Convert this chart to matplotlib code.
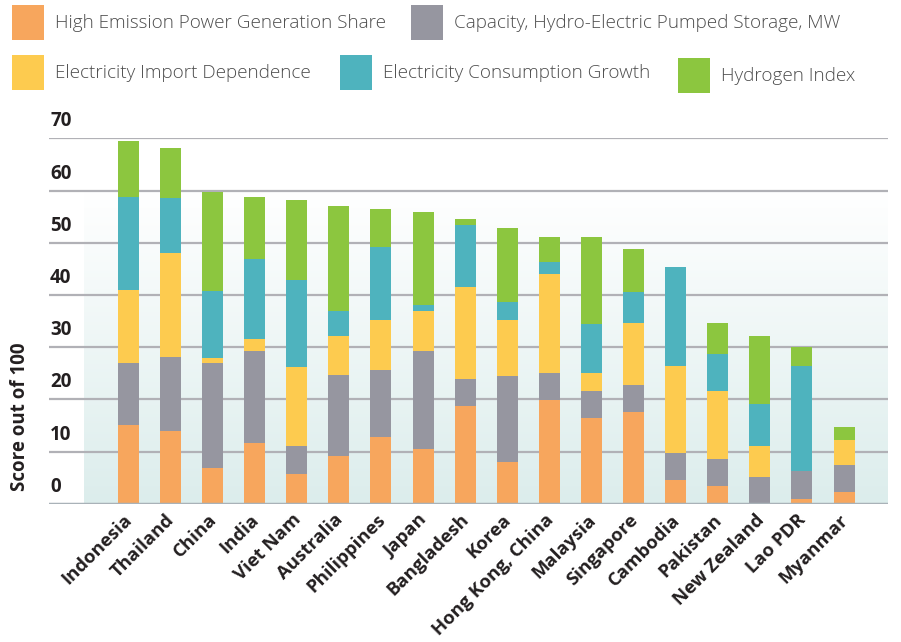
import numpy as np
import matplotlib
matplotlib.use('Agg')
import matplotlib.pyplot as plt
from matplotlib.patches import Rectangle
from matplotlib.transforms import offset_copy, ScaledTranslation

# ---- data ----
countries = ['Indonesia', 'Thailand', 'China', 'India', 'Viet Nam', 'Australia',
             'Philippines', 'Japan', 'Bangladesh', 'Korea', 'Hong Kong, China',
             'Malaysia', 'Singapore', 'Cambodia', 'Pakistan', 'New Zealand',
             'Lao PDR', 'Myanmar']

high_emission = [15.1, 13.9, 6.8, 11.6, 5.7, 9.1, 12.8, 10.5, 18.7, 8.0, 19.9,
                 16.4, 17.6, 4.5, 3.4, 0.0, 0.9, 2.2]
pumped_storage = [11.9, 14.2, 20.1, 17.6, 5.4, 15.5, 12.8, 18.8, 5.2, 16.5, 5.2,
                  5.2, 5.2, 5.2, 5.2, 5.1, 5.4, 5.2]
import_dependence = [14.0, 19.9, 1.1, 2.3, 15.1, 7.5, 9.6, 7.7, 17.6, 10.7, 19.0,
                     3.4, 11.9, 16.7, 13.0, 5.9, 0.0, 4.8]
consumption_growth = [17.8, 10.6, 12.8, 15.3, 16.7, 4.8, 14.0, 1.1, 11.9, 3.4, 2.3,
                      9.4, 5.9, 19.0, 7.1, 8.2, 20.1, 0.0]
hydrogen = [10.7, 9.5, 19.0, 11.9, 15.3, 20.1, 7.3, 17.8, 1.1, 14.2, 4.8,
            16.7, 8.2, 0.0, 5.9, 13.0, 3.6, 2.5]

series = [
    ('High Emission Power Generation Share', high_emission, '#F7A65D'),
    ('Capacity, Hydro-Electric Pumped Storage, MW', pumped_storage, '#9696A0'),
    ('Electricity Import Dependence', import_dependence, '#FDCB4F'),
    ('Electricity Consumption Growth', consumption_growth, '#4EB3BE'),
    ('Hydrogen Index', hydrogen, '#8CC63F'),
]

yticks = [0, 10, 20, 30, 40, 50, 60, 70]

# ---- figure ----
plt.rcParams['font.family'] = ['Open Sans', 'DejaVu Sans']
fig = plt.figure(figsize=(9.01, 6.42), dpi=100)
ax = fig.add_axes([0.0544, 0.2154, 0.9312, 0.5690])

x = np.arange(len(countries))
xmin, xmax = -1.884, 18.045

# soft teal gradient behind the bars (white at 60 -> teal at 0)
grad = np.linspace(1, 0, 256).reshape(-1, 1)
c_top = np.array([1.0, 1.0, 1.0])
c_bot = np.array([220, 237, 236]) / 255
img = c_bot + (c_top - c_bot) * grad[..., None]
ax.imshow(img, extent=[-1.052, xmax, 0, 60], aspect='auto', origin='upper', zorder=0)

for v in yticks[1:]:
    ax.axhline(v, color='#B1B1B6', lw=1.6, zorder=1)
ax.axhline(0, color='#A9B2B8', lw=2.5, zorder=3)

bottom = np.zeros(len(countries))
for name, vals, col in series:
    vals = np.array(vals)
    ax.bar(x, vals, width=0.5, bottom=bottom, color=col, zorder=2, label=name)
    bottom += vals

ax.set_xlim(xmin, xmax)
ax.set_ylim(0, 70)
for s in ax.spines.values():
    s.set_visible(False)
ax.set_yticks([])
ax.set_xticks(x)
ax.set_xticklabels(countries, rotation=45, ha='right', rotation_mode='anchor',
                   fontsize=13.3, fontweight='bold', color='#231F20')
ax.tick_params(axis='x', length=0, pad=5)
shift = ScaledTranslation(-5 / 100, 0, fig.dpi_scale_trans)
for lab in ax.get_xticklabels():
    lab.set_transform(lab.get_transform() + shift)

# y labels sit just above their grid line
lab_tr = offset_copy(ax.get_yaxis_transform(), fig=fig, x=1, y=17, units='dots')
for v in yticks:
    ax.text(0.0, v, str(v), transform=lab_tr, ha='left', va='center',
            fontsize=13.5, fontweight='bold', color='#231F20')

fig.text(20 / 901, 1 - 417 / 642, 'Score out of 100', rotation=90, ha='center', va='center',
         fontsize=13.5, fontweight='bold', color='#231F20')

# ---- legend (two rows, hand placed) ----
legend_pos = [(12, 5), (411, 5), (12, 55), (340, 55), (678, 58)]
for (name, vals, col), (px, py) in zip(series, legend_pos):
    fig.add_artist(Rectangle((px / 901, 1 - (py + 35) / 642), 32 / 901, 35 / 642,
                             transform=fig.transFigure, color=col, lw=0))
    fig.text((px + 43) / 901, 1 - (py + 18) / 642, name, ha='left', va='center',
             fontsize=13.6, fontweight='light', color='#4D4D4D')

fig.savefig('out.png', dpi=100)
